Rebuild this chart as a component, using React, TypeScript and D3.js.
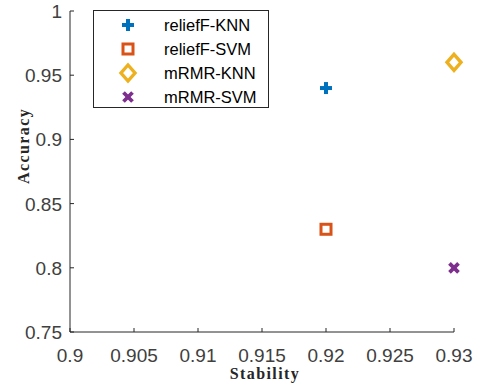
import React from "react";
import * as d3 from "d3";

const seriesNames = ["reliefF-KNN", "reliefF-SVM", "mRMR-KNN", "mRMR-SVM"];
const stability = [0.92, 0.92, 0.93, 0.93];
const accuracy = [0.94, 0.83, 0.96, 0.8];
const colors = ["#0072BD", "#D95319", "#EDB120", "#7E2F8E"];
const xTicks = [0.9, 0.905, 0.91, 0.915, 0.92, 0.925, 0.93];
const yTicks = [0.75, 0.8, 0.85, 0.9, 0.95, 1];

const W = 478, H = 387;

function Marker({ i, x, y }: { i: number; x: number; y: number }) {
  const c = colors[i];
  if (i === 0) {
    return (
      <g stroke={c} strokeWidth={4}>
        <line x1={x - 6} x2={x + 6} y1={y} y2={y} />
        <line x1={x} x2={x} y1={y - 6} y2={y + 6} />
      </g>
    );
  }
  if (i === 1) {
    return <rect x={x - 5} y={y - 5} width={10} height={10} fill="white" stroke={c} strokeWidth={3} />;
  }
  if (i === 2) {
    return (
      <path
        d={`M${x},${y - 8} L${x + 7},${y} L${x},${y + 8} L${x - 7},${y} Z`}
        fill="white"
        stroke={c}
        strokeWidth={3.4}
      />
    );
  }
  return (
    <g stroke={c} strokeWidth={3.8}>
      <line x1={x - 4.5} x2={x + 4.5} y1={y - 4.5} y2={y + 4.5} />
      <line x1={x - 4.5} x2={x + 4.5} y1={y + 4.5} y2={y - 4.5} />
    </g>
  );
}

export default function App() {
  const x = d3.scaleLinear().domain([0.9, 0.93]).range([70, 454]);
  const y = d3.scaleLinear().domain([0.75, 1]).range([332, 11]);
  const axisColor = "#262626";
  const textColor = "#404040";
  const tickFont = "Liberation Sans, Arial, sans-serif";
  const fmt = (v: number) => String(+v.toFixed(3));
  return (
    <svg width={W} height={H} style={{ position: "absolute", left: 0, top: 0, background: "white" }}>
      <line x1={70} x2={70} y1={y(1)} y2={y(0.75)} stroke={axisColor} strokeWidth={1} />
      <line x1={70} x2={x(0.93)} y1={332} y2={332} stroke={axisColor} strokeWidth={1} />
      {xTicks.map((t) => (
        <g key={"x" + t}>
          <line x1={x(t)} x2={x(t)} y1={332} y2={328} stroke={axisColor} />
          <text x={x(t)} y={362} textAnchor="middle" fontFamily={tickFont} fontSize={19} fill={textColor}>
            {fmt(t)}
          </text>
        </g>
      ))}
      {yTicks.map((t) => (
        <g key={"y" + t}>
          <line x1={70} x2={74} y1={y(t)} y2={y(t)} stroke={axisColor} />
          <text x={62} y={y(t) + 7} textAnchor="end" fontFamily={tickFont} fontSize={19} fill={textColor}>
            {fmt(t)}
          </text>
        </g>
      ))}
      <text
        x={265}
        y={379}
        textAnchor="middle"
        fontFamily="Liberation Serif, Times New Roman, serif"
        fontWeight="bold"
        fontSize={16}
        letterSpacing={1.4}
        fill="#262626"
      >
        Stability
      </text>
      <text
        transform="translate(29,146) rotate(-90)"
        textAnchor="middle"
        fontFamily="Liberation Serif, Times New Roman, serif"
        fontWeight="bold"
        fontSize={16}
        letterSpacing={1.4}
        fill="#262626"
      >
        Accuracy
      </text>
      {seriesNames.map((n, i) => (
        <Marker key={n} i={i} x={x(stability[i])} y={y(accuracy[i])} />
      ))}
      <rect x={93.5} y={10.5} width={175} height={97} fill="white" stroke={axisColor} strokeWidth={1} />
      {seriesNames.map((n, i) => (
        <g key={"l" + n}>
          <Marker i={i} x={128} y={25 + i * 24} />
          <text x={164} y={25 + i * 24 + 6} fontFamily={tickFont} fontSize={16.5} fill="#000">
            {n}
          </text>
        </g>
      ))}
    </svg>
  );
}
